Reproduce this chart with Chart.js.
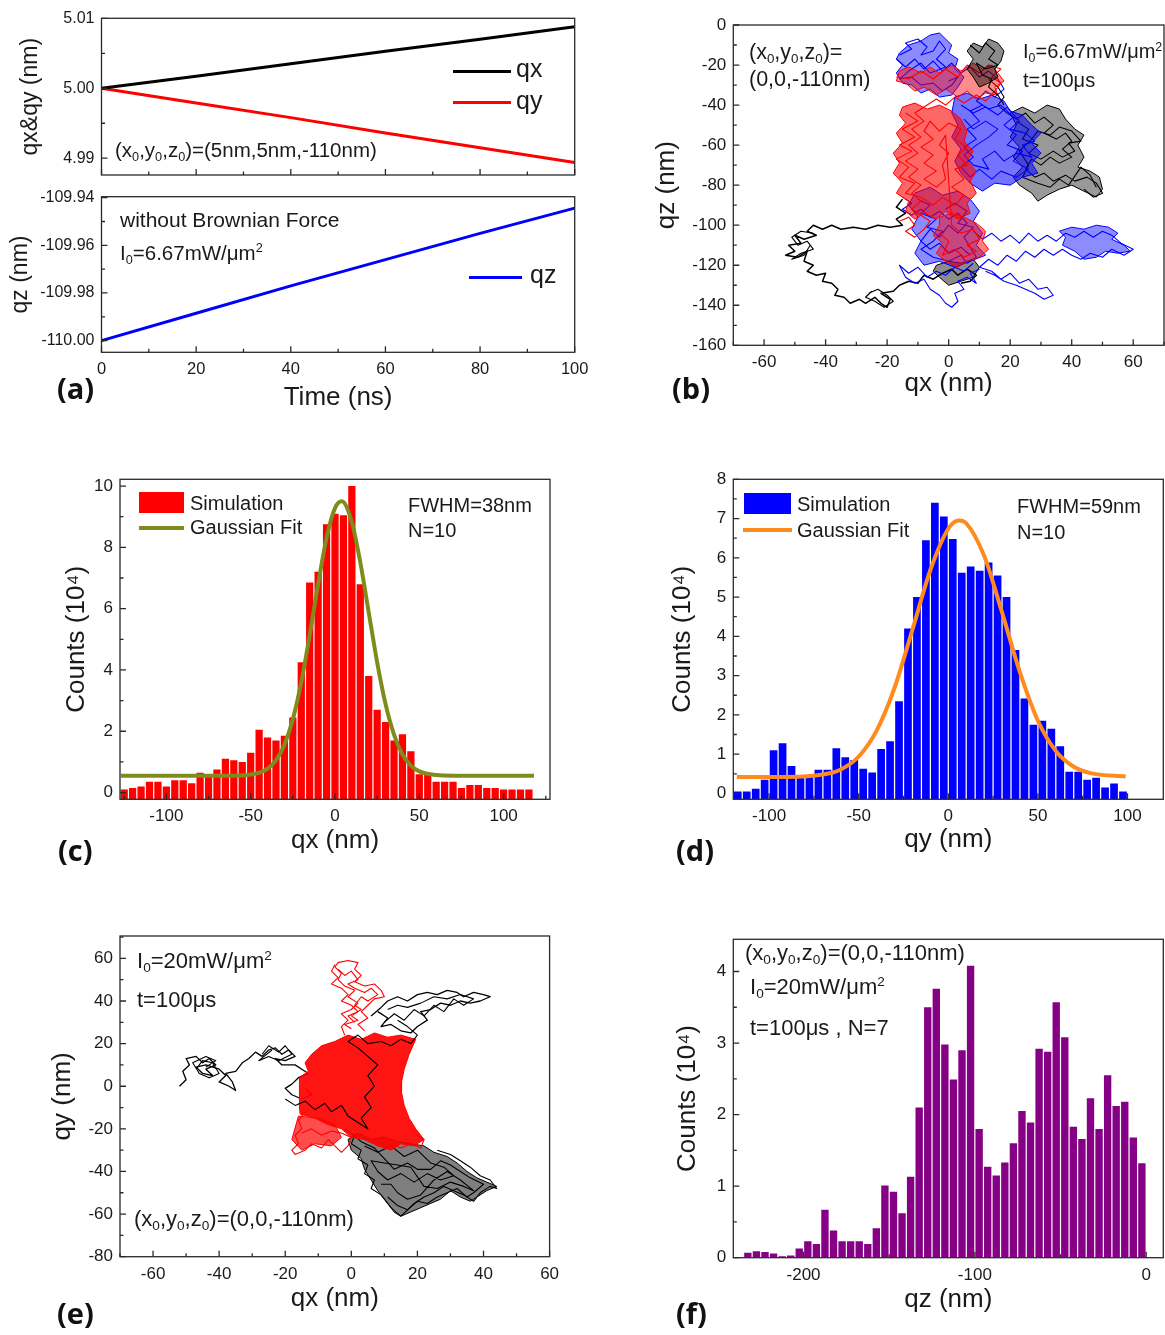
<!DOCTYPE html>
<html><head><meta charset="utf-8">
<script src="https://cdn.jsdelivr.net/npm/chart.js@4.4.1/dist/chart.umd.min.js"></script>
<style>
html,body{margin:0;padding:0;background:#fff;}
#fig{position:relative;width:1165px;height:1335px;overflow:hidden;background:#fff;}
.cw{position:absolute;}
.t{position:absolute;font-family:'Liberation Sans',Arial,sans-serif;color:#1a1a1a;white-space:nowrap;line-height:1;z-index:5;}
.t sub{font-size:62%;vertical-align:-0.3em;line-height:0;}
.t sup{font-size:62%;vertical-align:0.6em;line-height:0;}
.pl{position:absolute;font-family:'Open Sans','DejaVu Sans',sans-serif;font-weight:700;font-size:29px;line-height:1;color:#111;z-index:5;}
.lg{position:absolute;z-index:5;}
</style></head><body>
<div id="fig">
  <div class="cw" id="wa1"><canvas></canvas></div>
  <div class="cw" id="wa2"><canvas></canvas></div>
  <div class="cw" id="wb"><canvas></canvas></div>
  <div class="cw" id="wc"><canvas></canvas></div>
  <div class="cw" id="wd"><canvas></canvas></div>
  <div class="cw" id="we"><canvas></canvas></div>
  <div class="cw" id="wf"><canvas></canvas></div>

  <!-- panel a annotations -->
  <div class="t" style="left:115px;top:139.5px;font-size:20.5px">(x<sub>0</sub>,y<sub>0</sub>,z<sub>0</sub>)=(5nm,5nm,-110nm)</div>
  <div class="lg" style="left:453px;top:69.5px;width:58px;height:3px;background:#000"></div>
  <div class="t" style="left:516px;top:56px;font-size:25px">qx</div>
  <div class="lg" style="left:453px;top:101px;width:58px;height:3px;background:#f00"></div>
  <div class="t" style="left:516px;top:87.5px;font-size:25px">qy</div>
  <div class="t" style="left:120px;top:208.5px;font-size:21px">without Brownian Force</div>
  <div class="t" style="left:120px;top:242.5px;font-size:20.5px">I<sub>0</sub>=6.67mW/μm<sup>2</sup></div>
  <div class="lg" style="left:469px;top:275.5px;width:53px;height:3px;background:#00f"></div>
  <div class="t" style="left:530px;top:262px;font-size:25px">qz</div>
  <div class="pl" style="left:57px;top:373px">(a)</div>

  <!-- panel b annotations -->
  <div class="t" style="left:749px;top:41.5px;font-size:21.5px">(x<sub>0</sub>,y<sub>0</sub>,z<sub>0</sub>)=</div>
  <div class="t" style="left:749px;top:69px;font-size:21.5px">(0,0,-110nm)</div>
  <div class="t" style="left:1023px;top:41px;font-size:20px">I<sub>0</sub>=6.67mW/μm<sup>2</sup></div>
  <div class="t" style="left:1023px;top:70px;font-size:20px">t=100μs</div>
  <div class="pl" style="left:672px;top:373px">(b)</div>

  <!-- panel c annotations -->
  <div class="lg" style="left:139px;top:492px;width:45px;height:21px;background:#f00"></div>
  <div class="t" style="left:190px;top:493.2px;font-size:20px">Simulation</div>
  <div class="lg" style="left:139px;top:525.5px;width:45px;height:4px;background:#7f8c1c"></div>
  <div class="t" style="left:190px;top:517.2px;font-size:20px">Gaussian Fit</div>
  <div class="t" style="left:408px;top:495.2px;font-size:20px">FWHM=38nm</div>
  <div class="t" style="left:408px;top:520.2px;font-size:20px">N=10</div>
  <div class="pl" style="left:58px;top:835px">(c)</div>

  <!-- panel d annotations -->
  <div class="lg" style="left:744px;top:493px;width:47px;height:21px;background:#00f"></div>
  <div class="t" style="left:797px;top:494.2px;font-size:20px">Simulation</div>
  <div class="lg" style="left:743px;top:527.5px;width:49px;height:4px;background:#ff8a1e"></div>
  <div class="t" style="left:797px;top:520.2px;font-size:20px">Gaussian Fit</div>
  <div class="t" style="left:1017px;top:496.2px;font-size:20px">FWHM=59nm</div>
  <div class="t" style="left:1017px;top:521.9px;font-size:20px">N=10</div>
  <div class="pl" style="left:676px;top:835px">(d)</div>

  <!-- panel e annotations -->
  <div class="t" style="left:137px;top:950.2px;font-size:22px">I<sub>0</sub>=20mW/μm<sup>2</sup></div>
  <div class="t" style="left:137px;top:989.2px;font-size:22px">t=100μs</div>
  <div class="t" style="left:134px;top:1208px;font-size:22px">(x<sub>0</sub>,y<sub>0</sub>,z<sub>0</sub>)=(0,0,-110nm)</div>
  <div class="pl" style="left:57px;top:1298px">(e)</div>

  <!-- panel f annotations -->
  <div class="t" style="left:745px;top:942px;font-size:22px">(x<sub>0</sub>,y<sub>0</sub>,z<sub>0</sub>)=(0,0,-110nm)</div>
  <div class="t" style="left:750px;top:976px;font-size:22px">I<sub>0</sub>=20mW/μm<sup>2</sup></div>
  <div class="t" style="left:750px;top:1017px;font-size:22px">t=100μs , N=7</div>
  <div class="pl" style="left:676px;top:1298px">(f)</div>
</div>
<script>
// ================= DATA =================
// (a) deterministic trajectory, no Brownian force
const aTime = [0, 20, 40, 60, 80, 100];
const aQx = [5.0000, 5.0017, 5.0035, 5.0053, 5.0070, 5.0088];
const aQy = [5.0000, 4.9979, 4.9958, 4.9936, 4.9915, 4.9894];
const aQz = [-110.0000, -109.9885, -109.9770, -109.9660, -109.9550, -109.9444];
const aTimeTicks = [0, 20, 40, 60, 80, 100];
const aXYTicks = [4.99, 5.00, 5.01];
const aZTicks = [-110.00, -109.98, -109.96, -109.94];

// (b) Brownian trajectories qx-qz (black, red, blue runs), read as way-points [qx,qz,...]
const bBlackTop = [6,-13, 8,-9, 11,-11, 13,-7, 16,-9, 18,-13, 17,-18, 15,-22, 16,-26, 13,-29, 10,-31, 8,-26, 6,-22, 8,-17];
const bBlackTopPath = [7,-10, 10,-14, 12,-9, 15,-13, 13,-17, 16,-20, 12,-22, 9,-19, 11,-25, 14,-27, 13,-31, 16,-35, 18,-40];
const bRedTop = [-16,-23, -13,-21, -9,-24, -6,-21, -3,-24, 1,-20, 4,-23, 8,-19, 11,-22, 14,-20, 16,-24, 18,-28, 15,-31, 16,-35, 12,-34, 9,-37, 6,-33, 3,-36, -1,-32, -4,-35, -8,-31, -11,-33, -14,-29, -17,-28];
const bRedMain = [-15,-41, -11,-39, -7,-42, -3,-40, 1,-43, 4,-47, 6,-53, 5,-58, 8,-63, 6,-68, 9,-73, 7,-78, 9,-84, 6,-89, 7,-94, 3,-97, -1,-93, -4,-97, -8,-94, -11,-97, -14,-93, -13,-88, -17,-84, -15,-79, -18,-74, -16,-69, -18,-64, -15,-59, -17,-54, -14,-49, -16,-45];
const bRedLow = [-3,-96, 1,-94, 5,-96, 9,-99, 12,-103, 11,-108, 13,-112, 10,-116, 6,-118, 3,-121, -1,-118, -4,-114, -2,-109, -5,-105, -3,-100];
const bRedPath = [-16,-98, -13,-96, -11,-100, -14,-103, -11,-106, -8,-102, -6,-98, -9,-95, -12,-92, -9,-88, -12,-84, -9,-80, -13,-76, -10,-72, -14,-68, -10,-64, -13,-60, -9,-56, -12,-52, -8,-48, -11,-44, -7,-40, -4,-37, -1,-40, 2,-36, 5,-39, 9,-35, 12,-38, 15,-33, 17,-29, 14,-26, 17,-22, 13,-20, 10,-24, 6,-20, 3,-26, -1,-22, -5,-27, -9,-23, -13,-27, -17,-26];
const bRedScrib = [-14,-44, -10,-48, -15,-52, -11,-56, -16,-60, -12,-63, -17,-67, -13,-71, -16,-76, -11,-79, -14,-84, -9,-86, -5,-90, -2,-86, 2,-90, 5,-85, 1,-81, 5,-77, 2,-72, 6,-70, 3,-65, 6,-61, 2,-57, 4,-52, 0,-49, -3,-53, -6,-48, -8,-53, -5,-57, -9,-61, -5,-65, -8,-69, -4,-73, -8,-77, -4,-81, -1,-77, -2,-70, 0,-64, -3,-60, -1,-55, 1,-100, 4,-104, 8,-102, 10,-107, 6,-110, 9,-113, 5,-116, 2,-112, -2,-115, 0,-108, -3,-104];
const bBlueTL = [-16,-14, -13,-10, -9,-8, -6,-5, -3,-4, -1,-7, 1,-10, 0,-14, 3,-17, 2,-22, 5,-26, 3,-31, 1,-35, -3,-36, -6,-32, -9,-34, -12,-30, -15,-29, -17,-24, -15,-20, -17,-17];
const bBlueMid = [2,-36, 6,-34, 10,-37, 14,-35, 18,-38, 20,-43, 24,-45, 27,-50, 30,-54, 27,-59, 30,-64, 27,-69, 29,-74, 24,-76, 20,-80, 15,-79, 11,-83, 7,-79, 4,-74, 2,-68, 4,-62, 1,-56, 3,-50, 1,-44];
const bBlueLow = [-11,-84, -6,-81, -2,-85, 3,-83, 7,-87, 10,-93, 8,-98, 11,-104, 9,-110, 12,-115, 7,-118, 2,-121, -3,-118, -8,-120, -11,-114, -9,-108, -12,-102, -10,-96, -13,-90];
const bBlueRight = [36,-103, 40,-101, 44,-102, 48,-100, 52,-101, 55,-104, 53,-107, 57,-110, 59,-113, 55,-114, 51,-113, 48,-116, 44,-117, 41,-113, 37,-110, 38,-106];
const bBluePathR = [8,-103, 11,-107, 14,-104, 17,-108, 20,-105, 23,-109, 26,-104, 29,-108, 32,-105, 35,-108, 38,-104, 41,-106, 44,-103, 47,-106, 50,-103, 53,-105, 56,-109, 60,-112, 57,-115, 53,-112, 50,-116, 46,-114, 43,-117, 40,-115, 37,-112, 34,-115, 31,-112, 28,-116, 25,-113, 22,-118, 19,-115, 16,-120, 13,-117, 10,-121, 14,-123, 17,-127, 20,-124, 23,-129, 26,-127, 29,-132, 32,-131, 34,-135, 31,-137, 28,-134, 25,-132, 22,-130, 18,-128, 15,-125, 12,-123];
const bBluePathB = [8,-119, 5,-123, 2,-121, -1,-125, -4,-123, -7,-126, -10,-121, -13,-124, -16,-120, -14,-126, -11,-129, -8,-127, -6,-132, -3,-135, -1,-139, 1,-141, 3,-138, 2,-134, 5,-132, 3,-128, 6,-126, 9,-129, 7,-124, 10,-122];
const bBluePathM = [-17,-17, -14,-21, -11,-17, -8,-22, -5,-18, -2,-23, 1,-19, 4,-24, 7,-21, 10,-26, 13,-23, 16,-27, 18,-32, 15,-36, 12,-33, 9,-38, 13,-42, 17,-40, 21,-46, 18,-50, 22,-55, 19,-60, 24,-63, 21,-68, 26,-72, 22,-76, 17,-73, 14,-77, 10,-72, 7,-76, 4,-71, 8,-66, 5,-61, 9,-57, 6,-52, 10,-48, 7,-43, 11,-40];
const bBluePathL = [-15,-86, -12,-89, -15,-92, -12,-95, -9,-92, -6,-96, -3,-93, 0,-97, 3,-94, 6,-99, 3,-104, 0,-100, -3,-106, -6,-102, -9,-108, -6,-112, -3,-109, 0,-114, 4,-111, 7,-115];
const bBlueScrib1 = [-16,-15, -12,-12, -14,-9, -10,-7, -7,-11, -9,-15, -5,-13, -3,-8, -1,-12, -4,-17, -1,-21, -6,-24, -9,-19, -13,-23, -16,-27, -12,-26, -9,-30, -5,-29, -2,-33, 1,-30, 3,-26, 0,-28];
const bBlueScrib2 = [4,-40, 8,-44, 12,-41, 16,-45, 19,-41, 23,-48, 20,-52, 25,-54, 28,-58, 24,-60, 27,-66, 22,-64, 18,-68, 15,-63, 11,-67, 13,-72, 8,-70, 5,-65, 9,-60, 13,-56, 16,-52, 12,-48, 8,-52, 5,-47];
const bBlueScrib3 = [-10,-87, -6,-90, -9,-94, -4,-97, -7,-101, -2,-103, -5,-108, -9,-112, -5,-116, 0,-118, 4,-115, 6,-119, 9,-116, 5,-106, 8,-101, 3,-99, 6,-93, 2,-89, -1,-92];
const bBlackRight = [20,-44, 24,-41, 28,-44, 32,-40, 36,-42, 38,-47, 41,-52, 44,-55, 42,-60, 44,-66, 42,-71, 46,-73, 49,-76, 50,-82, 48,-86, 44,-83, 40,-80, 36,-82, 32,-85, 29,-88, 27,-84, 23,-80, 21,-76, 24,-71, 21,-66, 23,-61, 20,-56, 22,-50];
const bBlackRightPath = [13,-27, 16,-31, 18,-36, 16,-40, 19,-44, 22,-47, 25,-44, 28,-49, 31,-46, 34,-50, 31,-54, 35,-57, 38,-54, 40,-58, 37,-62, 40,-66, 36,-69, 33,-66, 30,-70, 27,-67, 25,-72, 28,-76, 31,-74, 34,-78, 38,-75, 41,-78, 45,-76, 48,-79, 50,-84, 47,-86, 44,-82];
const bBlackScrib = [22,-48, 26,-52, 24,-57, 29,-60, 26,-64, 30,-67, 34,-63, 37,-66, 41,-63, 39,-59, 43,-58, 40,-53, 36,-51, 33,-55, 29,-53, 27,-57, 23,-63, 26,-70, 24,-76, 29,-79, 33,-81, 36,-77, 39,-80, 43,-71, 46,-75, 48,-81];
const bBlackLoop = [-15,-87, -17,-91, -14,-94, -17,-97, -15,-100, -19,-101, -23,-100, -27,-102, -31,-101, -35,-102, -38,-100, -41,-102, -44,-100, -46,-103, -43,-105, -47,-107, -50,-105, -48,-109, -52,-110, -50,-113, -53,-115, -49,-116, -46,-113, -47,-118, -44,-120, -46,-123, -43,-125, -40,-124, -41,-128, -38,-129, -36,-132, -37,-135, -34,-136, -32,-139, -29,-137, -27,-139, -24,-136, -22,-139, -20,-141, -19,-137, -22,-134, -18,-133, -16,-130, -13,-128, -10,-129, -8,-125, -5,-127, -2,-124, 1,-122, 3,-125, 6,-122, 9,-125, 7,-128, 4,-129];
const bBlackKnotA = [-44,-104, -48,-103, -51,-106, -49,-110, -46,-108, -44,-112, -48,-114, -51,-117, -47,-115, -45,-110];
const bBlackKnotB = [-26,-134, -23,-132, -20,-135, -18,-138, -21,-141, -24,-138, -27,-136, -25,-133];
const bBlackBottom = [-4,-120, 0,-118, 4,-119, 8,-117, 10,-121, 8,-126, 4,-128, 0,-130, -3,-126, -5,-123];
const bQxTicks = [-60, -40, -20, 0, 20, 40, 60];
const bQzTicks = [-160, -140, -120, -100, -80, -60, -40, -20, 0];

// (c) qx histogram (counts in 1e4), bin centres in nm, and Gaussian fit
const cBinCenters = [-125,-120,-115,-110,-105,-100,-95,-90,-85,-80,-75,-70,-65,-60,-55,-50,-45,-40,-35,-30,-25,-20,-15,-10,-5,0,5,10,15,20,25,30,35,40,45,50,55,60,65,70,75,80,85,90,95,100,105,110,115];
const cCounts = [0.1,0.15,0.2,0.35,0.35,0.2,0.4,0.4,0.3,0.65,0.55,0.75,1.1,1.05,1.0,1.3,2.05,1.8,1.7,1.85,2.45,4.25,6.85,7.2,8.75,9.1,9.05,10.0,6.8,3.8,2.7,2.3,1.7,1.9,1.35,0.6,0.6,0.35,0.35,0.35,0.15,0.25,0.25,0.15,0.15,0.1,0.1,0.1,0.1];
const cFitX = [-127,-70,-60,-50,-45,-40,-35,-30,-25,-20,-15,-10,-5,0,4,10,15,20,25,30,35,40,45,50,60,70,118];
const cFitY = [0.55,0.55,0.55,0.59,0.64,0.78,1.05,1.56,2.39,3.6,5.14,6.8,8.31,9.28,9.5,8.82,7.51,5.88,4.25,2.88,1.89,1.24,0.88,0.69,0.57,0.55,0.55];
const cXTicks = [-100, -50, 0, 50, 100];
const cYTicks = [0, 2, 4, 6, 8, 10];

// (d) qy histogram
const dBinCenters = [-117.5,-112.5,-107.5,-102.5,-97.5,-92.5,-87.5,-82.5,-77.5,-72.5,-67.5,-62.5,-57.5,-52.5,-47.5,-42.5,-37.5,-32.5,-27.5,-22.5,-17.5,-12.5,-7.5,-2.5,2.5,7.5,12.5,17.5,22.5,27.5,32.5,37.5,42.5,47.5,52.5,57.5,62.5,67.5,72.5,77.5,82.5,87.5,92.5,97.5];
const dCounts = [0.05,0.05,0.12,0.35,1.1,1.28,0.7,0.45,0.45,0.6,0.6,1.15,0.92,0.85,0.63,0.53,1.13,1.33,2.35,4.2,5.0,6.45,7.4,7.05,6.48,5.62,5.78,5.67,5.88,5.55,5.0,3.65,2.42,1.75,1.85,1.65,1.2,0.55,0.55,0.35,0.4,0.15,0.25,0.05];
const dFitX = [-118,-90,-70,-60,-50,-40,-30,-20,-10,0,6,10,20,30,40,50,60,70,80,99];
const dFitY = [0.42,0.42,0.48,0.61,0.94,1.6,2.69,4.17,5.69,6.74,6.95,6.88,6.05,4.61,3.08,1.85,1.08,0.68,0.51,0.43];
const dXTicks = [-100, -50, 0, 50, 100];
const dYTicks = [0, 1, 2, 3, 4, 5, 6, 7, 8];

// (e) trajectories qx-qy at 20 mW/um^2 [qx,qy,...]
const eRedCore = [-12,15, -9,19, -5,21, -1,24, 3,22, 7,25, 11,23, 15,24, 19.5,22, 17.5,15, 16,8, 15.2,2, 15.2,-3, 16,-9, 17.5,-15, 19.5,-20, 22,-25, 19,-28, 15,-27, 12,-30, 8,-28, 4,-25, 0,-24, -3,-20, -7,-18, -11,-15, -15.5,-13, -15.8,-8, -15.8,-2, -15.6,4, -13,7, -14,11];
const eRedTop1 = [-2,24, -3,28, -1,31, -3,34, 0,36, 2,39, -1,42, 1,45, -2,47, -4,50, -3,53, -5,56, -4,58, -1,59, 2,58, 1,55, 3,52, 1,49, 4,47, 7,48, 9,45, 10,42, 7,41, 5,38, 3,35, 5,32, 2,29, 4,26];
const eRedTop2 = [-5,57, -6,54, -4,51, -6,48, -3,46, -1,43, -3,40, 0,38, 2,35, -1,33, 1,30];
const eRedTop3 = [-4,55, -2,52, 0,54, 2,50, -1,48, 1,46, 4,44, 6,46, 8,43, 5,40, 3,42, 1,38, 3,36, 0,33, 2,31, -2,29, 0,27];
const eRedLow = [-14,-12, -16,-16, -15,-20, -17,-23, -16,-27, -18,-30, -17,-32, -14,-30, -12,-27, -9,-29, -7,-25, -5,-28, -3,-31, -1,-28, 0,-24, -3,-22, -6,-21, -9,-23, -12,-20, -15,-22];
const eRedLowCore = [-16,-14, -10,-15, -5,-18, -3,-24, -6,-28, -11,-27, -15,-30, -18,-25];
const eRedEdge = [12,-27, 15,-29, 18,-27, 21,-29, 22,-25, 19,-22];
const eBlackLeft = [-52,0, -50,3, -51,7, -49,10, -50,13, -47,14, -45,11, -43,13, -41,10, -44,8, -42,5, -45,6, -47,9, -44,10, -40,8, -38,5, -40,2, -37,0, -35,-2, -36,2, -38,6, -35,7, -33,11, -31,13, -29,16, -27,14, -25,17, -23,18, -21,15, -19,17, -17,14, -20,12, -23,13, -21,10, -17,10, -15,8, -13,6, -16,4, -18,1, -20,-1, -18,-4, -15,-6, -12,-4, -14,-1];
const eBlackKnotL1 = [-47,8, -45,12, -42,11, -40,6, -43,4, -46,6, -48,11, -44,14, -41,12, -44,9];
const eBlackKnotL2 = [-27,15, -25,19, -22,16, -20,19, -18,15, -22,12, -25,14, -28,12, -24,17];
const eBlackTop = [6,33, 9,37, 11,40, 14,42, 17,40, 20,43, 23,44, 26,43, 29,45, 32,44, 34,42, 37,44, 40,43, 42,42, 39,40, 36,39, 33,40, 30,38, 27,39, 24,36, 21,35, 23,31, 20,28, 18,25, 15,26, 12,29, 9,28, 11,32, 8,35];
const eBlackTopScrib = [10,30, 13,34, 16,31, 19,36, 22,33, 25,38, 28,35, 31,41, 34,38, 37,41, 33,43, 29,41, 25,42, 21,39, 17,37, 14,38, 11,36];
const eBlackCore = [2,-22, 6,-25, 10,-24, 14,-26, 18,-27, 22,-28, 25,-31, 29,-33, 32,-36, 35,-40, 38,-43, 41,-45, 44,-47, 41,-49, 38,-52, 36,-54, 33,-52, 30,-49, 27,-53, 24,-55, 21,-57, 18,-59, 15,-61, 12,-57, 10,-53, 8,-49, 6,-44, 4,-39, 3,-34, 0,-30, -1,-25];
const eBlackLowPath = [-2,-20, 1,-23, 0,-27, 3,-30, 2,-34, 5,-37, 4,-41, 7,-44, 6,-48, 9,-51, 11,-55, 13,-59, 15,-61, 17,-58, 19,-55, 22,-52, 25,-50, 28,-47, 31,-49, 34,-51, 37,-54, 39,-50, 42,-47, 44,-48, 42,-44, 39,-42, 36,-38, 33,-35, 30,-32, 26,-30];
const eBlackScrib1 = [4,-28, 8,-31, 12,-28, 16,-33, 20,-30, 24,-36, 28,-38, 31,-42, 27,-44, 23,-41, 19,-45, 15,-41, 11,-44, 8,-40, 6,-35, 10,-36, 14,-37, 18,-38, 22,-47, 26,-48, 30,-45, 34,-47, 37,-49, 33,-44, 29,-40, 25,-44, 21,-51, 17,-53, 14,-50, 12,-46, 9,-46];
const eBlackScrib2 = [0,-22, 3,-26, 7,-29, 10,-34, 13,-39, 17,-36, 20,-39, 24,-39, 27,-35, 30,-37, 33,-40, 36,-43, 40,-46, 37,-50, 35,-52, 32,-48, 29,-50, 26,-52, 23,-55, 20,-54, 17,-58, 14,-56, 11,-52];
const eBlackMid = [-20,-6, -17,-9, -14,-7, -11,-11, -8,-8, -6,-12, -3,-9, -1,-14, 2,-17, 5,-20, 3,-15, 6,-10, 4,-5, 7,0, 5,5, 8,10, 5,14, 2,18, -1,21, 2,24, 5,20, 9,21, 12,19, 15,22, 18,20, 20,24, 17,28, 14,31];
const eQxTicks = [-60, -40, -20, 0, 20, 40, 60];
const eQyTicks = [-80, -60, -40, -20, 0, 20, 40, 60];

// (f) qz histogram
const fBinCenters = [-232.5,-227.5,-222.5,-217.5,-212.5,-207.5,-202.5,-197.5,-192.5,-187.5,-182.5,-177.5,-172.5,-167.5,-162.5,-157.5,-152.5,-147.5,-142.5,-137.5,-132.5,-127.5,-122.5,-117.5,-112.5,-107.5,-102.5,-97.5,-92.5,-87.5,-82.5,-77.5,-72.5,-67.5,-62.5,-57.5,-52.5,-47.5,-42.5,-37.5,-32.5,-27.5,-22.5,-17.5,-12.5,-7.5,-2.5];
const fCounts = [0.07,0.09,0.08,0.06,0.02,0.03,0.13,0.23,0.19,0.67,0.38,0.23,0.23,0.23,0.19,0.41,1.01,0.92,0.62,1.13,2.1,3.5,3.76,2.98,2.49,2.9,4.08,1.8,1.27,1.15,1.33,1.6,2.05,1.89,2.92,2.88,3.57,3.08,1.83,1.66,2.23,1.8,2.55,2.12,2.18,1.68,1.32];
const fXTicks = [-200, -100, 0];
const fYTicks = [0, 1, 2, 3, 4];

// ================= HELPERS =================
const SANS = "'Liberation Sans', Arial, Helvetica, sans-serif";
const INK = '#1a1a1a';
const pairs = (xs, ys) => xs.map((x, i) => ({x, y: ys[i]}));
const pts = (f) => { const o = []; for (let i = 0; i + 1 < f.length; i += 2) o.push({x: f[i], y: f[i + 1]}); return o; };
const ring = (f) => pts(f.concat([f[0], f[1]]));

const originBox = {
  id: 'originBox',
  afterDraw(chart, args, o) {
    const {ctx, chartArea: a} = chart;
    const X = chart.scales.x, Y = chart.scales.y;
    ctx.save();
    ctx.strokeStyle = '#2a2a2a';
    ctx.lineWidth = 1.3;
    ctx.beginPath();
    const mk = (scale, step, isX) => {
      const majors = scale.ticks.map(t => t.value);
      const at = (v, len) => {
        const p = scale.getPixelForValue(v);
        if (isX) { ctx.moveTo(p, a.bottom); ctx.lineTo(p, a.bottom - len); }
        else { ctx.moveTo(a.left, p); ctx.lineTo(a.left + len, p); }
      };
      majors.forEach(v => at(v, 6));
      if (step) {
        const n0 = Math.ceil(scale.min / step - 1e-6), n1 = Math.floor(scale.max / step + 1e-6);
        for (let n = n0; n <= n1; n++) {
          const v = n * step;
          if (!majors.some(m => Math.abs(m - v) < step * 1e-3)) at(v, 3.5);
        }
      }
    };
    mk(X, o.xMinor, true);
    mk(Y, o.yMinor, false);
    ctx.stroke();
    ctx.strokeRect(a.left, a.top, a.right - a.left, a.bottom - a.top);
    ctx.restore();
  }
};
Chart.register(originBox);

function frame(id, cv, box) {
  const w = document.getElementById(id);
  Object.assign(w.style, {left: cv[0] + 'px', top: cv[1] + 'px', width: (cv[2] - cv[0]) + 'px', height: (cv[3] - cv[1]) + 'px'});
  return {cv, box, el: w.querySelector('canvas'),
    pad: {left: 0, top: box[1] - cv[1], right: cv[2] - box[2], bottom: 0}};
}

function axis(fr, o) {
  const horiz = o.pos === 'bottom';
  const tSize = o.titleSize || 26;
  const lh = tSize * 1.2;
  let tPad = 0;
  if (o.title) tPad = horiz ? (fr.cv[3] - o.titleAt - lh / 2) : (o.titleAt - fr.cv[0] - lh / 2);
  return {
    type: 'linear', position: o.pos, min: o.min, max: o.max, offset: false,
    grid: {display: false, drawTicks: false}, border: {display: false},
    afterBuildTicks: (s) => { s.ticks = o.ticks.map(v => ({value: v})); },
    ticks: {autoSkip: false, maxRotation: 0, minRotation: 0, padding: o.tickPad || 7,
      display: o.labels !== false, color: INK, font: {size: o.tickSize || 17, family: SANS},
      callback: o.fmt || ((v) => String(v))},
    title: {display: !!o.title, text: o.title || '', color: INK, font: {size: tSize, family: SANS},
      padding: horiz ? {top: 0, bottom: tPad} : {top: tPad, bottom: 0}},
    afterFit: (s) => {
      if (horiz) s.height = fr.cv[3] - fr.box[3]; else s.width = fr.box[0] - fr.cv[0];
      s.paddingLeft = 0; s.paddingRight = 0; s.paddingTop = 0; s.paddingBottom = 0;
    }
  };
}

function options(fr, x, y, xMinor, yMinor) {
  return {
    responsive: true, maintainAspectRatio: false, animation: false, devicePixelRatio: 1, events: [],
    layout: {padding: fr.pad},
    plugins: {legend: {display: false}, tooltip: {enabled: false}, originBox: {xMinor, yMinor}},
    scales: {x, y}
  };
}

const line = (data, color, w) => ({type: 'scatter', data, showLine: true, borderColor: color, borderWidth: w, pointRadius: 0, fill: false, tension: 0});
const path = (f, color, w) => ({type: 'scatter', data: pts(f), showLine: true, borderColor: color, borderWidth: w || 1.1, pointRadius: 0, fill: false, tension: 0, borderJoinStyle: 'round'});
const blob = (f, color, fillc) => ({type: 'scatter', data: ring(f), showLine: true, borderColor: color, borderWidth: 1, backgroundColor: fillc, fill: 'shape', pointRadius: 0, tension: 0, borderJoinStyle: 'round'});

// ================= (a) =================
{
  const fr = frame('wa1', [0, 0, 600, 186], [101.5, 18.3, 574.7, 175]);
  new Chart(fr.el, {type: 'scatter',
    data: {datasets: [line(pairs(aTime, aQx), '#000', 3), line(pairs(aTime, aQy), '#f00', 3)]},
    options: options(fr,
      axis(fr, {pos: 'bottom', min: 0, max: 100, ticks: aTimeTicks, labels: false}),
      axis(fr, {pos: 'left', min: 4.9876, max: 5.01, ticks: aXYTicks, fmt: v => v.toFixed(2), title: 'qx&qy (nm)', titleSize: 23, titleAt: 31, tickSize: 16}),
      10, 0.005)});
}
{
  const fr = frame('wa2', [0, 186, 600, 420], [101.5, 196.7, 574.7, 352.3]);
  new Chart(fr.el, {type: 'scatter',
    data: {datasets: [line(pairs(aTime, aQz), '#00f', 3)]},
    options: options(fr,
      axis(fr, {pos: 'bottom', min: 0, max: 100, ticks: aTimeTicks, title: 'Time (ns)', titleAt: 398, tickPad: 7, tickSize: 16.5}),
      axis(fr, {pos: 'left', min: -110.0049, max: -109.9396, ticks: aZTicks, fmt: v => v.toFixed(2), title: 'qz (nm)', titleSize: 23, titleAt: 21, tickSize: 16}),
      10, 0.01)});
}

// ================= (b) =================
{
  const fr = frame('wb', [640, 0, 1165, 420], [733.3, 25, 1164, 345.3]);
  const K = '#000', R = '#ff0000', B = '#0000ff';
  new Chart(fr.el, {type: 'scatter',
    data: {datasets: [
      blob(bBlackTop, K, 'rgba(0,0,0,0.45)'),
      path(bBlackTopPath, K),
      path(bRedPath, R),
      path(bRedScrib, R),
      blob(bRedTop, R, 'rgba(255,0,0,0.45)'),
      blob(bRedMain, R, 'rgba(255,0,0,0.6)'),
      blob(bRedLow, R, 'rgba(255,0,0,0.5)'),
      path(bBluePathM, B),
      path(bBluePathL, B),
      path(bBluePathR, B),
      path(bBluePathB, B),
      path(bBlueScrib1, B),
      path(bBlueScrib2, B),
      path(bBlueScrib3, B),
      blob(bBlueTL, B, 'rgba(0,0,255,0.45)'),
      blob(bBlueMid, B, 'rgba(0,0,255,0.55)'),
      blob(bBlueLow, B, 'rgba(0,0,255,0.45)'),
      blob(bBlueRight, B, 'rgba(0,0,255,0.45)'),
      path(bBlackRightPath, K),
      path(bBlackScrib, K),
      blob(bBlackRight, K, 'rgba(0,0,0,0.4)'),
      path(bBlackLoop, K, 1.5),
      path(bBlackKnotA, K),
      path(bBlackKnotB, K),
      blob(bBlackBottom, K, 'rgba(0,0,0,0.45)')
    ]},
    options: options(fr,
      axis(fr, {pos: 'bottom', min: -70, max: 70, ticks: bQxTicks, title: 'qx (nm)', titleAt: 384}),
      axis(fr, {pos: 'left', min: -160, max: 0, ticks: bQzTicks, title: 'qz (nm)', titleAt: 667}),
      10, 10)});
}

// ================= (c) =================
{
  const fr = frame('wc', [40, 440, 600, 880], [120, 479.3, 550, 799.3]);
  const yMin = -0.22;
  new Chart(fr.el, {type: 'bar',
    data: {datasets: [
      {type: 'line', data: pairs(cFitX, cFitY), borderColor: '#7f8c1c', borderWidth: 4, pointRadius: 0, fill: false, cubicInterpolationMode: 'monotone'},
      {type: 'bar', data: pairs(cBinCenters, cCounts), backgroundColor: '#ff0000', borderWidth: 0, barPercentage: 0.86, categoryPercentage: 1, base: yMin}
    ]},
    options: options(fr,
      axis(fr, {pos: 'bottom', min: -127.5, max: 127.5, ticks: cXTicks, title: 'qx (nm)', titleAt: 841}),
      axis(fr, {pos: 'left', min: yMin, max: 10.22, ticks: cYTicks, title: 'Counts (10\u2074)', titleAt: 76.5}),
      25, 1)});
}

// ================= (d) =================
{
  const fr = frame('wd', [640, 440, 1165, 880], [733.3, 479.3, 1163.3, 799.3]);
  const yMin = -0.15;
  new Chart(fr.el, {type: 'bar',
    data: {datasets: [
      {type: 'line', data: pairs(dFitX, dFitY), borderColor: '#ff8a1e', borderWidth: 4, pointRadius: 0, fill: false, cubicInterpolationMode: 'monotone'},
      {type: 'bar', data: pairs(dBinCenters, dCounts), backgroundColor: '#0000ff', borderWidth: 0, barPercentage: 0.86, categoryPercentage: 1, base: yMin}
    ]},
    options: options(fr,
      axis(fr, {pos: 'bottom', min: -120, max: 120, ticks: dXTicks, title: 'qy (nm)', titleAt: 840}),
      axis(fr, {pos: 'left', min: yMin, max: 8, ticks: dYTicks, title: 'Counts (10\u2074)', titleAt: 683}),
      25, 0.5)});
}

// ================= (e) =================
{
  const fr = frame('we', [30, 900, 600, 1335], [120, 936, 549.6, 1256.7]);
  const K = '#000', R = '#ff0000';
  new Chart(fr.el, {type: 'scatter',
    data: {datasets: [
      path(eBlackMid, K),
      path(eRedTop1, R),
      path(eRedTop2, R),
      path(eRedTop3, R),
      path(eRedLow, R),
      path(eRedEdge, R),
      blob(eRedLowCore, R, 'rgba(255,0,0,0.7)'),
      blob(eRedCore, R, 'rgba(255,0,0,0.92)'),
      path(eBlackLeft, K, 1.3),
      path(eBlackKnotL1, K),
      path(eBlackKnotL2, K),
      path(eBlackTop, K, 1.3),
      path(eBlackTopScrib, K),
      path(eBlackLowPath, K),
      path(eBlackScrib1, K),
      path(eBlackScrib2, K),
      blob(eBlackCore, K, 'rgba(0,0,0,0.5)')
    ]},
    options: options(fr,
      axis(fr, {pos: 'bottom', min: -70, max: 60, ticks: eQxTicks, title: 'qx (nm)', titleAt: 1299}),
      axis(fr, {pos: 'left', min: -80, max: 70.5, ticks: eQyTicks, title: 'qy (nm)', titleAt: 63}),
      10, 10)});
}

// ================= (f) =================
{
  const fr = frame('wf', [640, 900, 1165, 1335], [733.3, 939.3, 1163.3, 1257.7]);
  new Chart(fr.el, {type: 'bar',
    data: {datasets: [
      {type: 'bar', data: pairs(fBinCenters, fCounts), backgroundColor: '#850085', borderWidth: 0, barPercentage: 0.86, categoryPercentage: 1, base: 0}
    ]},
    options: options(fr,
      axis(fr, {pos: 'bottom', min: -241, max: 10, ticks: fXTicks, title: 'qz (nm)', titleAt: 1300}),
      axis(fr, {pos: 'left', min: 0, max: 4.45, ticks: fYTicks, title: 'Counts (10\u2074)', titleAt: 688}),
      50, 0.5)});
}
</script>
</body></html>
